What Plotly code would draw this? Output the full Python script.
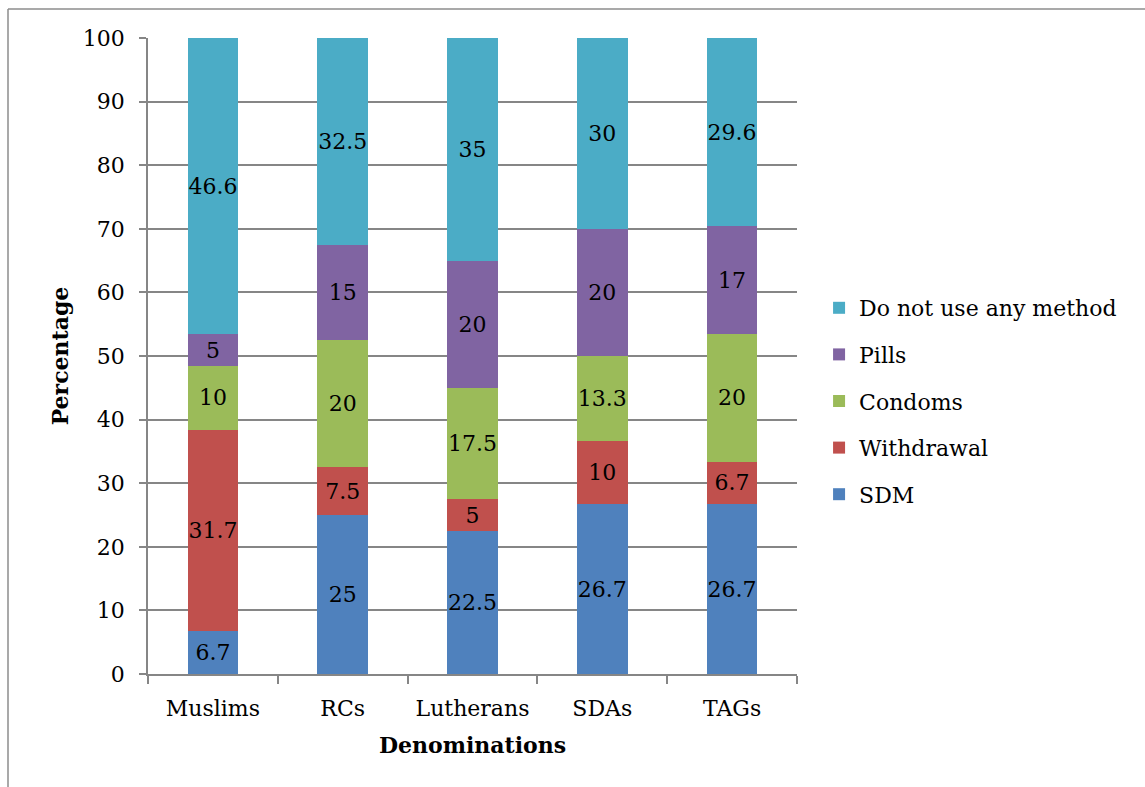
import plotly.graph_objects as go

categories = ["Muslims", "RCs", "Lutherans", "SDAs", "TAGs"]
series_names = ["SDM", "Withdrawal", "Condoms", "Pills", "Do not use any method"]
sdm = [6.7, 25, 22.5, 26.7, 26.7]
withdrawal = [31.7, 7.5, 5, 10, 6.7]
condoms = [10, 20, 17.5, 13.3, 20]
pills = [5, 15, 20, 20, 17]
no_method = [46.6, 32.5, 35, 30, 29.6]
colors = ["#4F81BD", "#C0504D", "#9BBB59", "#8064A2", "#4BACC6"]
y_ticks = [0, 10, 20, 30, 40, 50, 60, 70, 80, 90, 100]

FONT = "DejaVu Serif"
FS = 22

all_series = [sdm, withdrawal, condoms, pills, no_method]
fig = go.Figure()
for i, (name, vals) in enumerate(zip(series_names, all_series)):
    fig.add_trace(go.Bar(
        x=categories, y=vals, name=name,
        marker=dict(color=colors[i], line=dict(width=0)),
        text=[str(v) for v in vals], textposition="inside",
        insidetextanchor="middle", textangle=0, constraintext="none",
        textfont=dict(family=FONT, size=FS, color="black"),
        legendgroup=name, legendrank=1000 - i,
    ))

W, H = 1145, 787
L, R, T, B = 148, 797, 38, 674

fig.update_layout(
    width=W, height=H, barmode="stack", bargap=0.61,
    margin=dict(l=L, r=W - R, t=T, b=H - B, pad=0),
    paper_bgcolor="white", plot_bgcolor="white",
    font=dict(family=FONT, size=FS, color="black"),
    legend=dict(traceorder="grouped", x=1.034, y=(B - 401) / (B - T),
                xanchor="left", yanchor="middle",
                tracegroupgap=15, font=dict(family=FONT, size=FS, color="black"),
                bgcolor="rgba(0,0,0,0)"),
    xaxis=dict(showline=True, linecolor="#868686", linewidth=1.5, ticks="outside",
               tickson="boundaries", ticklen=8, tickcolor="#868686", tickwidth=1.5,
               showgrid=False, ticklabelstandoff=14,
               title=dict(text="<b>Denominations</b>", font=dict(family=FONT, size=FS), standoff=17)),
    yaxis=dict(range=[0, 100], tickvals=y_ticks, showline=True, linecolor="#868686", linewidth=1.5,
               ticks="outside", ticklen=7, tickcolor="#868686", tickwidth=1.5,
               showgrid=True, gridcolor="#868686", gridwidth=1.5, zeroline=False,
               ticklabelstandoff=10,
               title=dict(text="<b>Percentage</b>", font=dict(family=FONT, size=FS), standoff=8)),
)

# outer chart border (top and left edges visible)
pw, ph = R - L, B - T
x_left = (8 - L) / pw
y_top = (B - 9) / ph
fig.add_shape(type="line", xref="paper", yref="paper", x0=x_left, x1=(W + 5 - L) / pw,
              y0=y_top, y1=y_top, line=dict(color="#8C8C8C", width=1.5))
fig.add_shape(type="line", xref="paper", yref="paper", x0=x_left, x1=x_left,
              y0=y_top, y1=(B - H - 5) / ph, line=dict(color="#8C8C8C", width=1.5))

fig.write_html("out.html")
